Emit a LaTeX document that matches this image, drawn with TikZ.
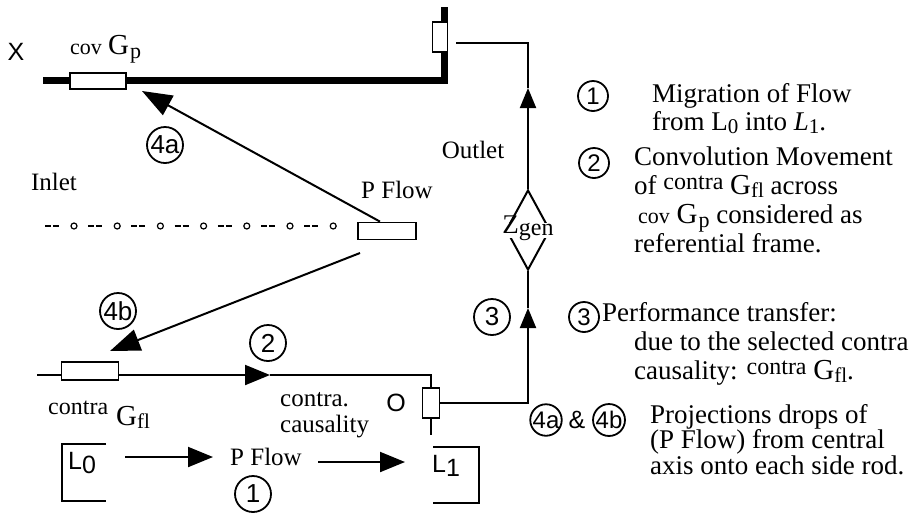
\documentclass[tikz,border=0pt]{standalone}
\usepackage{fontspec}
\setmainfont{Liberation Serif}
\setsansfont{Liberation Sans}
\usetikzlibrary{arrows.meta,shapes.geometric}
\newcommand{\myfs}[1]{\fontsize{#1}{#1}\selectfont}
\newcommand{\mycontra}[1]{\raisebox{#1}{\myfs{24}contra}}
\newcommand{\myGfl}{{\myfs{29}G}\raisebox{-3pt}{\myfs{21}fl}}
\newcommand{\myGp}{{\myfs{29}G}\kern1pt\raisebox{-4pt}{\myfs{22}p}}
\newcommand{\mycov}{{\myfs{22}cov}}
\begin{document}
\begin{tikzpicture}[x=1pt,y=-1pt,
  thinl/.style={line width=2pt},
  rod/.style={line width=7pt},
  rodbox/.style={draw, fill=white, line width=1.8pt, inner sep=0pt},
  tri/.style={-{Triangle[length=20pt,width=16pt]}},
  midtri/.style={-{Triangle[length=25pt,width=20pt]}},
  bigtri/.style={-{Triangle[length=30pt,width=22pt]}},
  circ/.style={circle, draw, line width=1.8pt, inner sep=0pt, minimum size=36pt, font=\sffamily\myfs{26}},
  rcirc/.style={circ, minimum size=30pt, font=\sffamily\myfs{24}},
  lbl/.style={inner sep=0pt, font=\myfs{25}},
  sans/.style={inner sep=0pt, font=\sffamily\myfs{25}},
  txt/.style={inner sep=0pt, anchor=north west, align=left, font=\fontsize{27}{28}\selectfont},
]
\useasboundingbox (0,0) rectangle (909,515);

% top rod
\coordinate (tl) at (43,80);
\coordinate (tc) at (444,80);
\coordinate (tt) at (444,7);
\draw[rod, line join=miter] (tl) -- (tc) -- (tt);
\node[rodbox, minimum width=56pt, minimum height=16pt] (cov) at (98,81) {};
\node[rodbox, minimum width=15pt, minimum height=30pt] (rbox) at (440,37) {};
\node[sans] (X) at (16,52) {X};
\node[lbl, anchor=base west] (covl) at (70,54) {\mycov\ \myGp};

% right branch
\coordinate (ro) at (456,43);
\coordinate (rc) at (528,43);
\coordinate (ua) at (528,88);
\node[diamond, draw, thinl, minimum width=44pt, minimum height=80pt, inner sep=0pt] (zd) at (528,230) {};
\draw[thinl] (ro) -- (rc) -- (ua);
\draw[thinl, tri] (zd.north) -- (ua);
\node[fill=white, inner sep=0pt, text height=11pt, text depth=4pt, font=\myfs{27}] (zg) at (528,230) {Z\raisebox{-2pt}{\myfs{24}gen}};
\node[lbl] (outlet) at (473,150) {Outlet};

% O box and arrow 3
\node[rodbox, minimum width=17pt, minimum height=30pt] (ob) at (431,403) {};
\coordinate (oc) at (528,403);
\coordinate (a3) at (528,308);
\draw[thinl, tri] (ob.east) -- (oc) -- (a3);
\draw[thinl] (a3) -- (zd.south);
\node[circ] (c3) at (492,317) {3};
\node[sans] (O) at (396,403) {O};

% lower rod
\coordinate (ll) at (37,375);
\node[rodbox, minimum width=57pt, minimum height=18pt] (cb) at (90,371) {};
\coordinate (la) at (270,375);
\coordinate (lc) at (431,375);
\coordinate (lb) at (431,435);
\draw[thinl] (ll) -- (ll -| cb.west);
\draw[thinl, midtri] (ll -| cb.east) -- (la);
\draw[thinl] (la) -- (lc) -- (ob.north);
\draw[thinl] (ob.south) -- (lb);
\node[lbl, anchor=base west] (cgl) at (48,425) {\mycontra{11pt}\hspace{8pt}\myGfl};
\node[lbl, anchor=north west, align=left, font=\fontsize{25}{26}\selectfont] (cc) at (280,392) {contra.\\causality};

% L0 -> P Flow -> L1
\draw[thinl] (106,444) -- (62,444) -- (62,501) -- (106,501);
\node[sans] (L0) at (82,463) {L\raisebox{-4pt}{0}};
\node[lbl] (pfb) at (266,457) {P Flow};
\coordinate (a1s) at (125,457);
\coordinate (a1e) at (213,457);
\draw[thinl, midtri] (a1s) -- (a1e);
\coordinate (a2s) at (318,462);
\coordinate (a2e) at (405,462);
\draw[thinl, midtri] (a2s) -- (a2e);
\draw[thinl] (433,447) -- (479,447) -- (479,503) -- (433,503);
\node[sans] (L1) at (446,466) {L\raisebox{-4pt}{1}};
\node[circ] (c1b) at (253,494) {1};

% central axis and projections
\node[lbl] (inlet) at (54,182) {Inlet};
\node[lbl] (pft) at (397,190) {P Flow};
\node[rodbox, minimum width=58pt, minimum height=17pt] (pf) at (387,231) {};
\foreach \i in {0,...,6} {
  \draw[line width=2.5pt] (45+43.2*\i,226) -- ++(6,0) ++(2,0) -- ++(6,0);
  \draw[line width=1.2pt] (74+43.2*\i,226) circle (3);
}
\coordinate (t4a) at (142,91);
\draw[thinl, bigtri] ([xshift=-7pt]pf.north) -- (t4a);
\node[circ] (c4a) at (165,145) {4a};
\coordinate (s4b) at (360,253);
\coordinate (t4b) at (110,351);
\draw[thinl, bigtri] (s4b) -- (t4b);
\node[circ] (c4b) at (118,311) {4b};
\node[circ] (c2) at (268,343) {2};

% legend
\node[rcirc] (r1) at (593,96) {1};
\node[txt] (t1) at (652,83) {Migration of Flow\\from L\raisebox{-3pt}{\myfs{21}0} into \textit{L}\raisebox{-3pt}{\myfs{21}1}.};
\node[rcirc] (r2) at (594,163) {2};
\node[txt, font=\fontsize{27}{29}\selectfont] (t2) at (634,147) {Convolution Movement\\of \mycontra{5pt} \myGfl\ across\\\hspace{4pt}\mycov\ \myGp\ considered as\\referential frame.};
\node[rcirc] (r3) at (584,317) {3};
\node[txt, font=\fontsize{27}{29}\selectfont] (t3) at (602,302) {Performance transfer:\\\hspace{32pt}due to the selected contra\\\hspace{32pt}causality: \mycontra{5pt} \myGfl.};
\node[rcirc] (r4a) at (546,420) {4a};
\node[sans] (amp) at (577,420) {\&};
\node[rcirc] (r4b) at (609,420) {4b};
\node[txt, font=\fontsize{27}{25.5}\selectfont] (t4) at (650,404) {Projections drops of\\(P Flow) from central\\axis onto each side rod.};
\end{tikzpicture}
\end{document}
